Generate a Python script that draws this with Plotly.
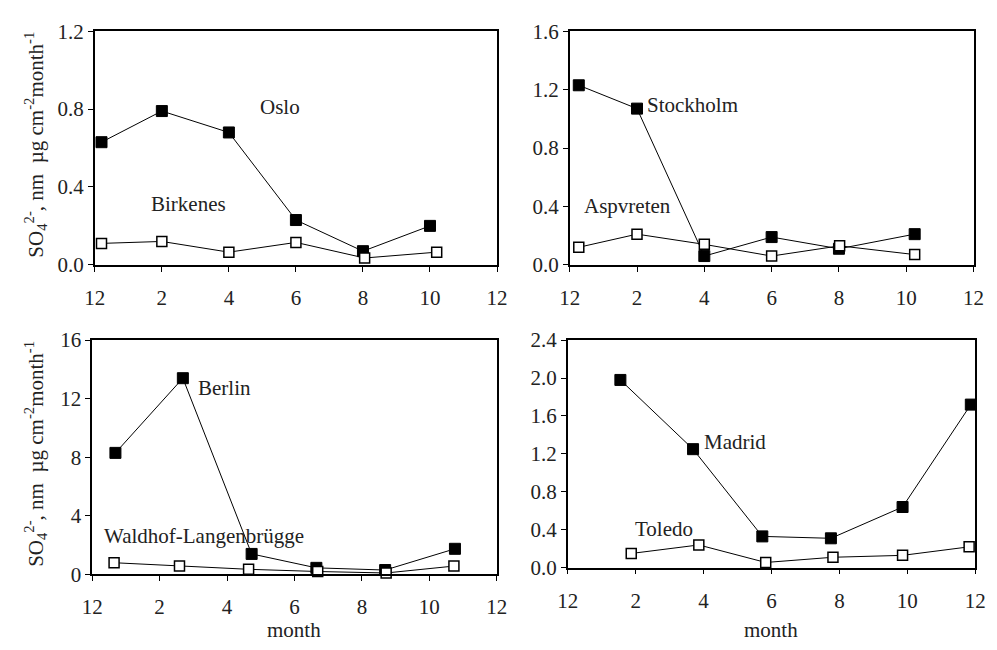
import plotly.graph_objects as go

# ---- data ----
month_ticks = [0, 2, 4, 6, 8, 10, 12]
month_labels = ["12", "2", "4", "6", "8", "10", "12"]

oslo_x = [0.2, 2, 4, 6, 8, 10]
oslo_y = [0.63, 0.79, 0.68, 0.23, 0.07, 0.20]
birk_x = [0.2, 2, 4, 6, 8.05, 10.2]
birk_y = [0.11, 0.12, 0.065, 0.115, 0.035, 0.065]

stock_x = [0.27, 2, 4, 6, 8, 10.25]
stock_y = [1.23, 1.07, 0.06, 0.19, 0.11, 0.21]
asp_x = [0.27, 2, 4, 6, 8.02, 10.25]
asp_y = [0.12, 0.21, 0.14, 0.06, 0.13, 0.07]

berlin_x = [0.69, 2.69, 4.73, 6.65, 8.69, 10.76]
berlin_y = [8.3, 13.4, 1.4, 0.45, 0.3, 1.75]
wald_x = [0.65, 2.59, 4.64, 6.69, 8.72, 10.73]
wald_y = [0.8, 0.57, 0.35, 0.2, 0.1, 0.57]

madrid_x = [1.55, 3.69, 5.73, 7.75, 9.86, 11.87]
madrid_y = [1.98, 1.25, 0.33, 0.31, 0.64, 1.72]
toledo_x = [1.87, 3.86, 5.83, 7.81, 9.86, 11.82]
toledo_y = [0.15, 0.24, 0.055, 0.11, 0.13, 0.22]

y_ranges = [[0, 1.2], [0, 1.6], [0, 16], [0, 2.4]]
y_ticks = [[0, 0.4, 0.8, 1.2], [0, 0.4, 0.8, 1.2, 1.6], [0, 4, 8, 12, 16],
           [0, 0.4, 0.8, 1.2, 1.6, 2.0, 2.4]]
y_fmt = [".1f", ".1f", "d", ".1f"]

labels = [
    ("Oslo", 5.52, 0.81, "x", "y"),
    ("Birkenes", 2.8, 0.314, "x", "y"),
    ("Stockholm", 3.65, 1.094, "x2", "y2"),
    ("Aspvreten", 1.71, 0.405, "x2", "y2"),
    ("Berlin", 3.93, 12.76, "x3", "y3"),
    ("Waldhof-Langenbrügge", 3.33, 2.61, "x3", "y3"),
    ("Madrid", 4.93, 1.324, "x4", "y4"),
    ("Toledo", 2.83, 0.41, "x4", "y4"),
]

FONT = "Liberation Serif"
FS = 21
TXT = "#222"

fig = go.Figure()

pairs = [
    (oslo_x, oslo_y, birk_x, birk_y),
    (stock_x, stock_y, asp_x, asp_y),
    (berlin_x, berlin_y, wald_x, wald_y),
    (madrid_x, madrid_y, toledo_x, toledo_y),
]
for i, (fx, fy, ox, oy) in enumerate(pairs):
    xa = "x" if i == 0 else f"x{i+1}"
    ya = "y" if i == 0 else f"y{i+1}"
    fig.add_trace(go.Scatter(x=fx, y=fy, xaxis=xa, yaxis=ya, mode="lines+markers",
                             line=dict(color="black", width=1),
                             marker=dict(symbol="square", size=11, color="black",
                                         line=dict(color="black", width=1)),
                             cliponaxis=False, showlegend=False))
    fig.add_trace(go.Scatter(x=ox, y=oy, xaxis=xa, yaxis=ya, mode="lines+markers",
                             line=dict(color="black", width=1),
                             marker=dict(symbol="square", size=10, color="white",
                                         line=dict(color="black", width=1.5)),
                             cliponaxis=False, showlegend=False))

W, H = 997, 650
boxes = [  # left, right, top, bottom in px
    (85.7, 497.0, 20.0, 262.5),
    (571.3, 984.3, 20.0, 262.5),
    (83.0, 496.7, 340.7, 584.0),
    (569.3, 986.0, 340.7, 577.0),
]

ytitle = ("SO<sub>4</sub><sup>2-</sup>, nm\u00a0 µg cm<sup>-2</sup>month<sup>-1</sup>")

tfont = dict(family=FONT, size=FS, color=TXT)
layout = dict(width=W, height=H, margin=dict(l=0, r=0, t=0, b=0),
              paper_bgcolor="white", plot_bgcolor="white",
              font=dict(family=FONT, size=FS, color=TXT))
for i, (l, r, t, b) in enumerate(boxes):
    xk = "xaxis" if i == 0 else f"xaxis{i+1}"
    yk = "yaxis" if i == 0 else f"yaxis{i+1}"
    ya = "y" if i == 0 else f"y{i+1}"
    xa = "x" if i == 0 else f"x{i+1}"
    layout[xk] = dict(domain=[l / W, r / W], range=[0, 12], anchor=ya,
                      tickvals=month_ticks, ticktext=month_labels, tickfont=tfont,
                      ticks="outside", ticklen=5, tickwidth=1, tickcolor="black",
                      showline=True, linecolor="black", linewidth=1.5, mirror=True,
                      showgrid=False, zeroline=False, ticklabelstandoff=8)
    layout[yk] = dict(domain=[1 - b / H, 1 - t / H], range=y_ranges[i], anchor=xa,
                      tickvals=y_ticks[i], tickformat=y_fmt[i], tickfont=tfont,
                      ticks="outside", ticklen=5, tickwidth=1, tickcolor="black",
                      showline=True, linecolor="black", linewidth=1.5, mirror=True,
                      showgrid=False, zeroline=False)

fig.update_layout(**layout)

for text, x, y, xr, yr in labels:
    fig.add_annotation(text=text, x=x, y=y, xref=xr, yref=yr, showarrow=False,
                       font=tfont)

# axis titles
for (l, r, t, b) in (boxes[0], boxes[2]):
    fig.add_annotation(text=ytitle, textangle=-90, x=25 / W, y=1 - ((t + b) / 2 - 4) / H,
                       xref="paper", yref="paper", xanchor="center", yanchor="middle",
                       showarrow=False, font=tfont)
for (l, r, t, b) in (boxes[2], boxes[3]):
    fig.add_annotation(text="month", x=((l + r) / 2) / W, y=1 - 642 / H,
                       xref="paper", yref="paper", xanchor="center", yanchor="middle",
                       showarrow=False, font=tfont)

fig.write_html("out.html")
